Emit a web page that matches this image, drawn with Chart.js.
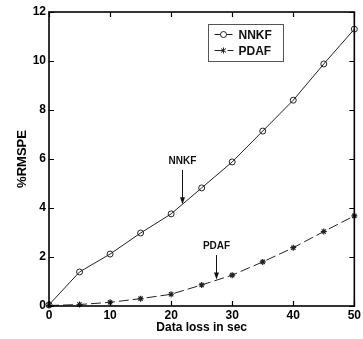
<!DOCTYPE html>
<html>
<head>
<meta charset="utf-8">
<script src="https://cdn.jsdelivr.net/npm/chart.js@4"></script>
<style>
html,body{margin:0;padding:0;background:#fff;}
#wrap{width:363px;height:339px;position:relative;}
</style>
</head>
<body>
<div id="wrap"><canvas id="c" width="363" height="339"></canvas></div>
<script>
const dataLoss = [0, 5, 10, 15, 20, 25, 30, 35, 40, 45, 50];
const nnkf = [0.05, 1.39, 2.12, 2.98, 3.76, 4.82, 5.88, 7.14, 8.40, 9.88, 11.30];
const pdaf = [0.02, 0.06, 0.15, 0.30, 0.48, 0.86, 1.26, 1.80, 2.38, 3.04, 3.68];
const xTicks = [0, 10, 20, 30, 40, 50];
const yTicks = [0, 2, 4, 6, 8, 10, 12];
const seriesNames = ["NNKF", "PDAF"];
const xTitle = "Data loss in sec";
const yTitle = "%RMSPE";
// annotations: [label, x, textY, arrowTopY, arrowTipY]
const notes = [["NNKF", 21.8, 5.92, 5.55, 4.15], ["PDAF", 27.4, 2.45, 2.08, 1.08]];

const INK = '#222';
const FONT = '"Liberation Sans", Arial, sans-serif';

const framePlugin = {
  id: 'frame',
  afterDraw(chart) {
    const ctx = chart.ctx, a = chart.chartArea;
    const xs = chart.scales.x, ys = chart.scales.y;
    ctx.save();
    ctx.strokeStyle = '#000';
    ctx.lineWidth = 1.6;
    ctx.strokeRect(a.left, a.top, a.right - a.left, a.bottom - a.top);
    ctx.lineWidth = 1.2;
    const tl = 5;
    xTicks.forEach(v => {
      const px = Math.round(xs.getPixelForValue(v)) + 0.5;
      ctx.beginPath();
      ctx.moveTo(px, a.bottom); ctx.lineTo(px, a.bottom - tl);
      ctx.moveTo(px, a.top); ctx.lineTo(px, a.top + tl);
      ctx.stroke();
    });
    yTicks.forEach(v => {
      const py = Math.round(ys.getPixelForValue(v)) + 0.5;
      ctx.beginPath();
      ctx.moveTo(a.left, py); ctx.lineTo(a.left + tl, py);
      ctx.moveTo(a.right, py); ctx.lineTo(a.right - tl, py);
      ctx.stroke();
    });
    // annotations
    ctx.fillStyle = '#111';
    ctx.strokeStyle = '#111';
    ctx.lineWidth = 1;
    ctx.font = 'bold 10px "Liberation Sans Narrow", "Liberation Sans", Arial, sans-serif';
    ctx.textAlign = 'center';
    ctx.textBaseline = 'middle';
    notes.forEach(n => {
      const px = Math.round(xs.getPixelForValue(n[1])) + 0.5;
      ctx.fillText(n[0], px, ys.getPixelForValue(n[2]));
      const y0 = ys.getPixelForValue(n[3]), y1 = ys.getPixelForValue(n[4]);
      ctx.beginPath(); ctx.moveTo(px, y0); ctx.lineTo(px, y1 - 6); ctx.stroke();
      ctx.beginPath(); ctx.moveTo(px - 2.5, y1 - 7); ctx.lineTo(px + 2.5, y1 - 7); ctx.lineTo(px, y1); ctx.closePath(); ctx.fill();
    });
    // legend box
    const bx = 208.5, by = 24.5, bw = 75, bh = 37;
    ctx.fillStyle = '#fff';
    ctx.fillRect(bx, by, bw, bh);
    ctx.strokeStyle = '#555';
    ctx.lineWidth = 1;
    ctx.strokeRect(bx, by, bw, bh);
    ctx.font = 'bold 12px ' + FONT;
    ctx.textAlign = 'left';
    ctx.fillStyle = '#111';
    const rows = [by + 10, by + 26];
    // NNKF row
    ctx.strokeStyle = INK;
    ctx.beginPath(); ctx.moveTo(bx + 6, rows[0]); ctx.lineTo(bx + 24, rows[0]); ctx.stroke();
    ctx.fillStyle = '#fff';
    ctx.beginPath(); ctx.arc(bx + 15, rows[0], 3, 0, Math.PI * 2); ctx.fill(); ctx.stroke();
    // PDAF row
    ctx.beginPath(); ctx.moveTo(bx + 6, rows[1]); ctx.lineTo(bx + 15, rows[1]); ctx.stroke();
    ctx.beginPath(); ctx.moveTo(bx + 19, rows[1]); ctx.lineTo(bx + 25, rows[1]); ctx.stroke();
    ctx.beginPath();
    ctx.moveTo(bx + 15, rows[1] - 3); ctx.lineTo(bx + 15, rows[1] + 3);
    ctx.moveTo(bx + 12.5, rows[1] - 2); ctx.lineTo(bx + 17.5, rows[1] + 2);
    ctx.moveTo(bx + 12.5, rows[1] + 2); ctx.lineTo(bx + 17.5, rows[1] - 2);
    ctx.stroke();
    ctx.fillStyle = '#111';
    ctx.fillText(seriesNames[0], bx + 30, rows[0] + 1);
    ctx.fillText(seriesNames[1], bx + 30, rows[1] + 1);
    ctx.restore();
  }
};

new Chart(document.getElementById('c'), {
  type: 'line',
  data: {
    datasets: [
      {
        label: seriesNames[0],
        data: dataLoss.map((x, i) => ({x, y: nnkf[i]})),
        borderColor: INK, borderWidth: 1,
        pointStyle: 'circle', pointRadius: 3,
        pointBackgroundColor: 'rgba(255,255,255,0)', pointBorderColor: INK, pointBorderWidth: 1,
        tension: 0, clip: false
      },
      {
        label: seriesNames[1],
        data: dataLoss.map((x, i) => ({x, y: pdaf[i]})),
        borderColor: INK, borderWidth: 1, borderDash: [10, 4],
        pointStyle: 'star', pointRadius: 3,
        pointBackgroundColor: INK, pointBorderColor: INK, pointBorderWidth: 1.2,
        tension: 0, clip: false
      }
    ]
  },
  options: {
    responsive: false,
    animation: false,
    events: [],
    layout: {padding: {top: 12, right: 6, left: 0, bottom: 0}},
    plugins: {legend: {display: false}, tooltip: {enabled: false}},
    scales: {
      x: {
        type: 'linear', min: 0, max: 50,
        afterBuildTicks: s => { s.ticks = xTicks.map(v => ({value: v})); },
        afterFit: s => { s.height = 33; },
        grid: {display: false, drawTicks: false},
        border: {display: false},
        ticks: {color: '#000', font: {family: FONT, size: 12, weight: 'bold'}, padding: 2, maxRotation: 0},
        title: {display: true, text: xTitle, color: '#000', font: {family: FONT, size: 12, weight: 'bold'}, padding: {top: 0, bottom: 4}}
      },
      y: {
        type: 'linear', min: 0, max: 12,
        afterBuildTicks: s => { s.ticks = yTicks.map(v => ({value: v})); },
        afterFit: s => { s.width = 49; },
        grid: {display: false, drawTicks: false},
        border: {display: false},
        ticks: {color: '#000', font: {family: FONT, size: 12, weight: 'bold'}, padding: 3},
        title: {display: true, text: yTitle, color: '#000', font: {family: FONT, size: 13, weight: 'bold'}, padding: {top: 15, bottom: 0}}
      }
    }
  },
  plugins: [framePlugin]
});
</script>
</body>
</html>
